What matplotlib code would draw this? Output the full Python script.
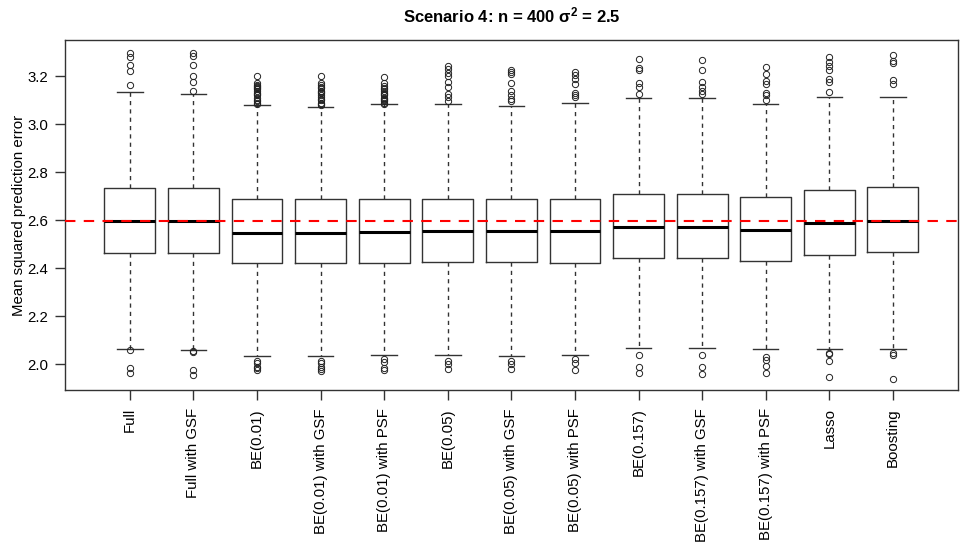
import matplotlib
matplotlib.use("Agg")
import matplotlib.pyplot as plt

plt.rcParams["font.family"] = ["Liberation Sans", "DejaVu Sans"]

# Methods compared in scenario 4
methods = [
    "Full", "Full with GSF", "BE(0.01)", "BE(0.01) with GSF", "BE(0.01) with PSF",
    "BE(0.05)", "BE(0.05) with GSF", "BE(0.05) with PSF", "BE(0.157)",
    "BE(0.157) with GSF", "BE(0.157) with PSF", "Lasso", "Boosting",
]

# Box summaries of the mean squared prediction error
medians = [2.597, 2.595, 2.548, 2.548, 2.551, 2.553, 2.553, 2.553, 2.573, 2.573, 2.560, 2.587, 2.595]
q1 = [2.465, 2.465, 2.422, 2.422, 2.422, 2.427, 2.427, 2.422, 2.442, 2.441, 2.431, 2.455, 2.466]
q3 = [2.732, 2.732, 2.686, 2.686, 2.686, 2.690, 2.689, 2.686, 2.709, 2.710, 2.695, 2.725, 2.737]
whisker_low = [2.065, 2.060, 2.035, 2.033, 2.040, 2.038, 2.033, 2.040, 2.067, 2.066, 2.061, 2.061, 2.063]
whisker_high = [3.135, 3.127, 3.079, 3.073, 3.082, 3.083, 3.075, 3.088, 3.109, 3.109, 3.082, 3.112, 3.113]

outliers = [
    [3.297, 3.278, 3.246, 3.221, 3.165, 2.06, 1.985, 1.961],
    [3.296, 3.283, 3.245, 3.200, 3.175, 3.140, 2.055, 2.050, 1.975, 1.955],
    [3.200, 3.170, 3.165, 3.160, 3.155, 3.150, 3.145, 3.140, 3.130, 3.125, 3.120,
     3.110, 3.100, 3.095, 3.090, 3.085, 2.014, 2.005, 1.990, 1.982, 1.977],
    [3.200, 3.170, 3.165, 3.155, 3.150, 3.140, 3.135, 3.130, 3.120, 3.115, 3.105,
     3.100, 3.090, 3.085, 3.080, 2.012, 2.003, 1.990, 1.980, 1.973],
    [3.198, 3.170, 3.160, 3.150, 3.145, 3.140, 3.130, 3.125, 3.120, 3.110, 3.105,
     3.100, 3.095, 3.090, 3.085, 2.020, 2.010, 1.985, 1.976],
    [3.242, 3.228, 3.215, 3.200, 3.175, 3.154, 3.127, 3.112, 3.095, 2.014, 2.000, 1.981],
    [3.224, 3.217, 3.210, 3.173, 3.137, 3.120, 3.106, 3.095, 2.014, 2.000, 1.981],
    [3.217, 3.203, 3.189, 3.168, 3.130, 3.123, 3.115, 2.020, 2.005, 1.976],
    [3.271, 3.234, 3.224, 3.173, 3.154, 3.127, 2.039, 1.990, 1.962],
    [3.267, 3.224, 3.175, 3.154, 3.137, 3.127, 2.038, 1.987, 1.960],
    [3.240, 3.207, 3.179, 3.168, 3.130, 3.122, 3.102, 2.028, 2.018, 1.993, 1.962],
    [3.279, 3.260, 3.243, 3.224, 3.186, 3.176, 3.134, 2.047, 2.042, 2.014, 1.947],
    [3.290, 3.265, 3.254, 3.182, 3.168, 2.045, 2.038, 1.940],
]

reference_mse = 2.597

stats = [
    {"med": m, "q1": lo, "q3": hi, "whislo": wl, "whishi": wh, "fliers": fl}
    for m, lo, hi, wl, wh, fl in zip(medians, q1, q3, whisker_low, whisker_high, outliers)
]

fig = plt.figure(figsize=(9.6, 5.42), dpi=100)
ax = fig.add_axes([0.0677, 0.2804, 0.930, 0.6456])

positions = list(range(1, len(methods) + 1))
ax.bxp(
    stats,
    positions=positions,
    widths=0.8,
    boxprops=dict(color="#333333", linewidth=1.0),
    whiskerprops=dict(color="#333333", linewidth=1.0, linestyle=(0, (3, 3))),
    capprops=dict(color="#333333", linewidth=1.0),
    medianprops=dict(color="black", linewidth=2.2, solid_capstyle="butt"),
    flierprops=dict(marker="o", markerfacecolor="none", markeredgecolor="#222222",
                    markersize=4.5, markeredgewidth=0.7),
    showfliers=True,
)

ax.axhline(reference_mse, color="red", linestyle=(0, (5, 4)), linewidth=1.5, zorder=5)

ax.set_xlim(-0.02, len(methods) + 1.02)
ax.set_ylim(1.892, 3.35)
ax.set_yticks([2.0, 2.2, 2.4, 2.6, 2.8, 3.0, 3.2])
ax.set_yticklabels(["2.0", "2.2", "2.4", "2.6", "2.8", "3.0", "3.2"], fontsize=10.8)
ax.set_xticks(positions)
ax.set_xticklabels(methods, rotation=90, fontsize=10.8)
ax.tick_params(direction="out", length=7, width=1, color="#333333")
ax.tick_params(axis="y", pad=5)
ax.tick_params(axis="x", pad=6)
for spine in ax.spines.values():
    spine.set_color("#333333")
    spine.set_linewidth(1.0)

ax.set_ylabel("Mean squared prediction error", fontsize=10.8, labelpad=1)
ax.set_title(r"Scenario 4: n = 400 $\mathregular{\sigma^2}$ = 2.5",
             fontsize=12, fontweight="bold", pad=13)

fig.savefig("out.png", dpi=100)
